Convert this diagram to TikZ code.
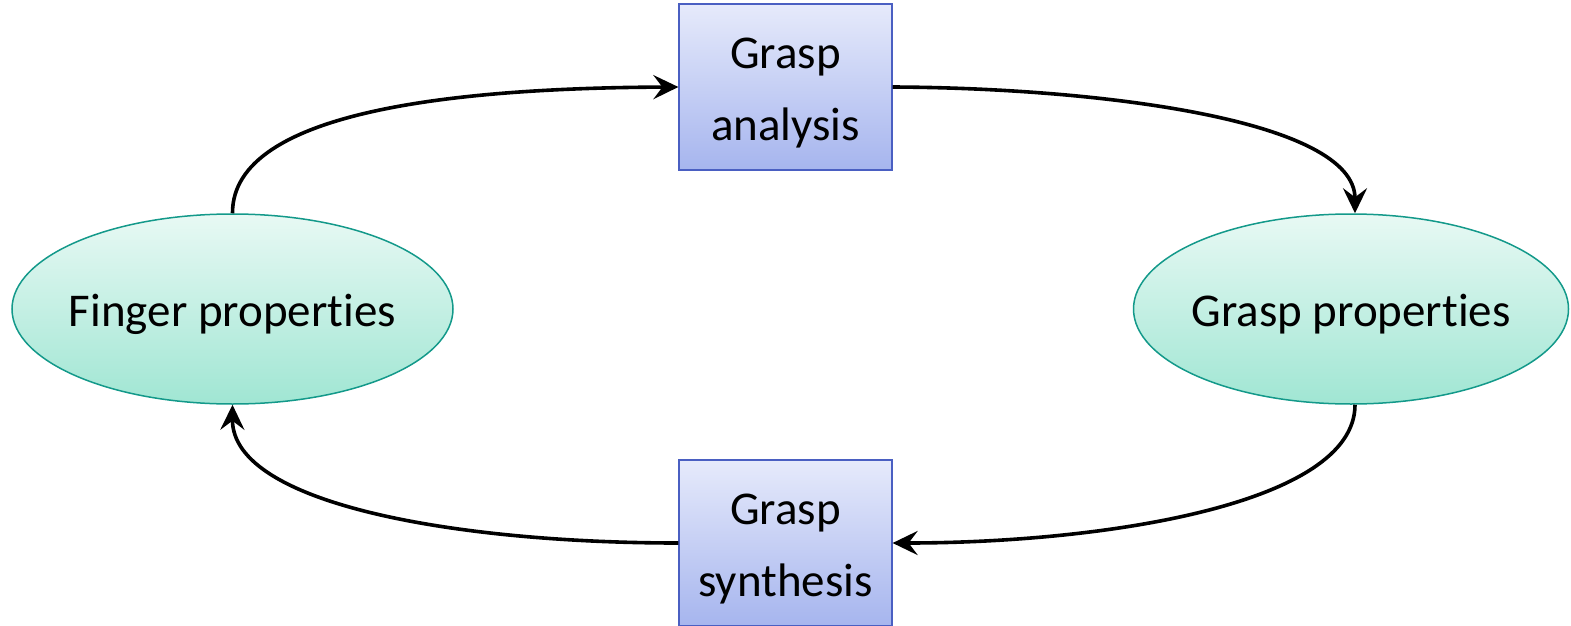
\documentclass[tikz,border=0pt]{standalone}
\usepackage{fontspec}
\setmainfont[Ligatures=NoCommon]{Carlito}
\usetikzlibrary{shapes.geometric,arrows.meta}
\definecolor{boxtop}{HTML}{E6EAFB}
\definecolor{boxbot}{HTML}{A6B5EE}
\definecolor{boxline}{HTML}{4A5FC2}
\definecolor{elltop}{HTML}{E8F9F4}
\definecolor{ellbot}{HTML}{A0E6D3}
\definecolor{ellline}{HTML}{13998A}
\tikzset{
  procbox/.style={rectangle, draw=boxline, line width=1.2pt, top color=boxtop, bottom color=boxbot,
    minimum width=213pt, minimum height=166pt, inner sep=0pt, align=center, font=\fontsize{47}{72}\selectfont},
  boxtext/.style={inner sep=0pt, align=center, font=\fontsize{47}{72}\selectfont},
  propell/.style={ellipse, draw=ellline, line width=1.5pt, top color=elltop, bottom color=ellbot,
    inner sep=0pt, text height=34pt, text depth=0pt, font=\fontsize{47}{56}\selectfont},
  flow/.style={line width=3.6pt, -{Stealth[length=25pt,width=24pt,inset=9pt]}}
}
\begin{document}
\begin{tikzpicture}[x=1pt,y=-1pt]
\useasboundingbox (0,0) rectangle (1571,626);
\node[procbox] (ana) at (785.5,87) {};
\node[boxtext] (anat) at (785.5,93) {Grasp\\analysis};
\node[procbox] (syn) at (785.5,543) {};
\node[boxtext] (synt) at (785.5,549) {Grasp\\synthesis};
\node[propell, minimum width=441pt, minimum height=190pt] (fin) at (232.5,309) {\makebox[200pt]{Finger properties}};
\node[propell, minimum width=435pt, minimum height=190pt] (gra) at (1351,309) {\makebox[200pt]{Grasp properties}};
\coordinate (granorth) at ([xshift=4pt]gra.north);
\coordinate (grasouth) at ([xshift=4pt]gra.south);
\draw[flow] (fin.north) .. controls (232,110) and (460,88) .. (ana.west);
\draw[flow] (ana.east) .. controls (1100,88) and (1355,120) .. (granorth);
\draw[flow] (grasouth) .. controls (1355,505) and (1100,543) .. (syn.east);
\draw[flow] (syn.west) .. controls (460,543) and (232,505) .. (fin.south);
\end{tikzpicture}
\end{document}
